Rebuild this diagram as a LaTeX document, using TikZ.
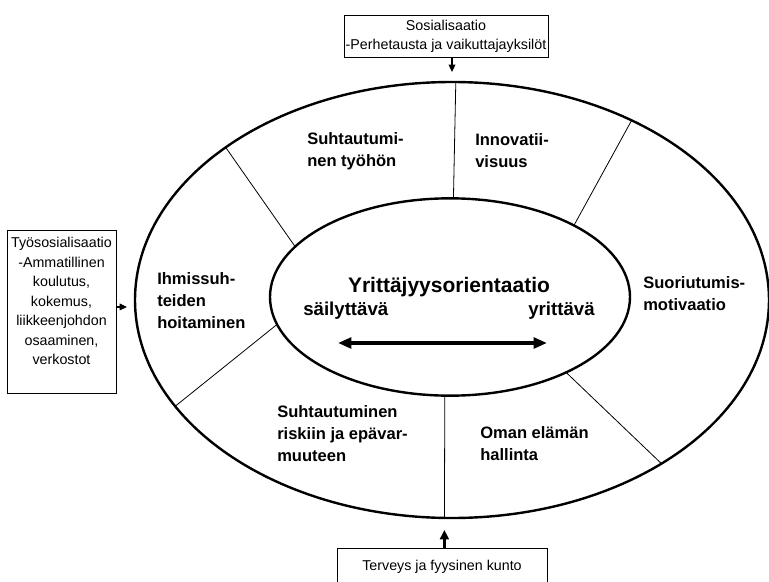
\documentclass[tikz,border=0pt]{standalone}
\usepackage{fontspec}
\setmainfont{Liberation Sans}
\usetikzlibrary{shapes.geometric, arrows.meta}

\begin{document}
\begin{tikzpicture}[x=0.75pt, y=-0.75pt,
    ring/.style={draw, ellipse, line width=1.8pt, inner sep=0pt, outer sep=0pt},
    field/.style={font=\fontsize{12.4}{16.5}\selectfont\bfseries, align=left, inner sep=0pt, anchor=west},
    pole/.style={font=\fontsize{14}{16}\selectfont\bfseries, inner sep=0pt},
    infobox/.style={draw, line width=0.6pt, align=center, font=\fontsize{10.7}{14.3}\selectfont, inner sep=0pt},
    divider/.style={line width=0.6pt},
    feed/.style={-{Triangle[length=5.5pt, width=5pt]}, line width=0.9pt}]
   \useasboundingbox (0,0) rectangle (769,582);

   % The two ellipses
   \node[ring, minimum width=475.5pt, minimum height=327pt] (outer) at (452,300) {};
   \node[ring, minimum width=270pt, minimum height=148pt] (inner) at (450,297) {};

   % Fields of the ring
   \node[field] (tyohon) at (307,151) {Suhtautumi-\\nen työhön};
   \node[field] (innov) at (475,151) {Innovatii-\\visuus};
   \node[field] (ihmis) at (157,301) {Ihmissuh-\\teiden\\hoitaminen};
   \node[field] (suor) at (643,294) {Suoriutumis-\\motivaatio};
   \node[field] (riski) at (277,434) {Suhtautuminen\\riskiin ja epävar-\\muuteen};
   \node[field] (oman) at (480,444) {Oman elämän\\hallinta};

   % Centre
   \node[font=\fontsize{15.75}{18}\selectfont\bfseries, inner sep=0pt, anchor=base] (orient) at (449,292) {Yrittäjyysorientaatio};
   \node[pole, anchor=base west] (sail) at (303,315) {säilyttävä};
   \node[pole, anchor=base east] (yritt) at (595,315) {yrittävä};
   \coordinate (lo) at (338,343);
   \coordinate (hi) at (547,343);

   % Outside factors
   \node[infobox, minimum width=153pt, minimum height=31.5pt] (sos) at (446,36) {Sosialisaatio\\-Perhetausta ja vaikuttajayksilöt};
   \node[infobox, minimum width=81.75pt, minimum height=122.25pt] (tyo) at (61.5,311.5) {};
   \node[align=center, font=\fontsize{10.7}{14.6}\selectfont, inner sep=0pt] (tyotext) at (61.5,301) {Työsosialisaatio\\-Ammatillinen\\koulutus,\\kokemus,\\liikkeenjohdon\\osaaminen,\\verkostot};
   \node[infobox, minimum width=157.5pt, minimum height=28.5pt] (terv) at (442,567) {Terveys ja fyysinen kunto};

   % Dividers
   \path[divider]
    (inner.88.5) edge (outer.89.7)
    (inner.30.4) edge (outer.45.2)
    (inner.327.3) edge (outer.322)
    (inner.267.6) edge (outer.268.4)
    (inner.189.9) edge (outer.201.3)
    (inner.162.4) edge (outer.146);

   % Arrows
   \draw[{Triangle[length=10pt, width=8pt]}-{Triangle[length=10pt, width=8pt]}, line width=2.6pt] (lo) -- (hi);
   \draw[feed, shorten >=7.5pt] (sos.south -| outer.north) -- (outer.north);
   \draw[feed, shorten >=6pt] ([yshift=3.4pt]tyo.east) -- ([yshift=3.4pt]tyo.east -| outer.west);
   \draw[feed, line width=1.9pt, -{Triangle[length=7pt, width=6.5pt]}, shorten >=9pt] (terv.north -| outer.268.4) -- (outer.268.4);
\end{tikzpicture}
\end{document}
